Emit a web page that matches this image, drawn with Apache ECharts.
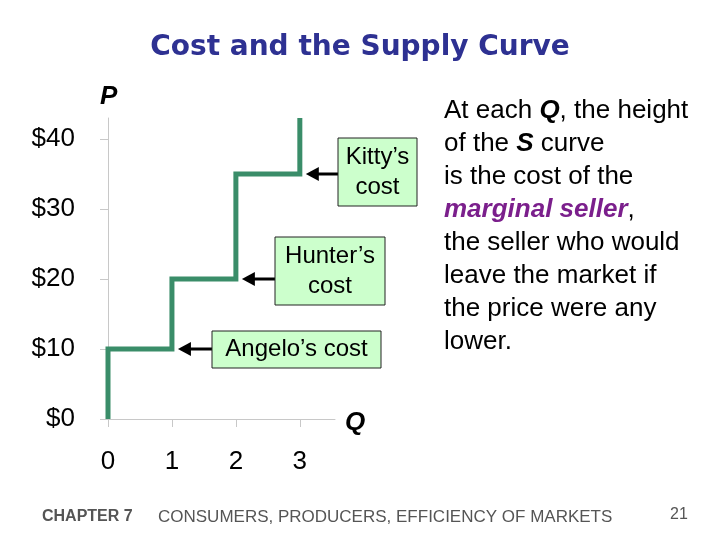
<!DOCTYPE html>
<html>
<head>
<meta charset="utf-8">
<script src="https://cdn.jsdelivr.net/npm/echarts@6/dist/echarts.min.js"></script>
<style>
  html, body { margin: 0; padding: 0; background: #fff; }
  #main { width: 720px; height: 540px; }
</style>
</head>
<body>
<div id="main"></div>
<script>
// sellers, in the order they enter the market
var sellers = ['Angelo', 'Hunter', 'Kitty'];
var sellerLabels = ['Angelo\u2019s cost', 'Hunter\u2019s\ncost', 'Kitty\u2019s\ncost'];
var sellerQ = [1, 2, 3];          // quantity where each seller's step ends
var sellerCost = [10, 20, 35];    // each seller's cost
var priceTop = 43;                // curve keeps rising above the last seller
var xTicks = [0, 1, 2, 3];
var yTicks = [0, 10, 20, 30, 40];

var FONT = '"Liberation Sans", Arial, sans-serif';
var GREEN = '#3a8d69';

// build the step supply curve from the costs
var curve = [[0, 0]];
for (var i = 0; i < sellerCost.length; i++) {
    curve.push([sellerQ[i] - 1, sellerCost[i]]);
    curve.push([sellerQ[i], sellerCost[i]]);
}
curve.push([sellerQ[sellerQ.length - 1], priceTop]);

var myChart = echarts.init(document.getElementById('main'));

var option = {
    animation: false,
    title: {
        text: 'Cost and the Supply Curve',
        left: 'center',
        top: 29,
        textStyle: {
            fontFamily: 'Tahoma, "DejaVu Sans", sans-serif',
            fontWeight: 'bold',
            fontSize: 28,
            color: '#2e3192'
        }
    },
    grid: {
        left: 108,
        top: 118,
        right: 385,
        bottom: 121
    },
    xAxis: {
        type: 'value',
        min: 0,
        max: 3.55,
        interval: 1,
        splitLine: {show: false},
        axisLine: {show: true, lineStyle: {color: '#c8c8c8', width: 1}},
        axisTick: {show: true, length: 8, customValues: xTicks, lineStyle: {color: '#c8c8c8'}},
        axisLabel: {
            margin: 30,
            fontSize: 26,
            fontFamily: FONT,
            color: '#000',
            customValues: xTicks
        }
    },
    yAxis: {
        type: 'value',
        min: 0,
        max: priceTop,
        interval: 10,
        splitLine: {show: false},
        axisLine: {show: true, lineStyle: {color: '#c8c8c8', width: 1}},
        axisTick: {show: true, length: 8, customValues: yTicks, lineStyle: {color: '#c8c8c8'}},
        axisLabel: {
            margin: 33,
            fontSize: 26,
            fontFamily: FONT,
            color: '#000',
            customValues: yTicks,
            formatter: function (v) {
                return '$' + v;
            }
        }
    },
    series: [{
        type: 'line',
        data: curve,
        showSymbol: false,
        symbol: 'none',
        clip: false,
        lineStyle: {color: GREEN, width: 5, join: 'miter', cap: 'butt'}
    }]
};

myChart.setOption(option);

// annotation boxes (pixel layout) pointing at each seller's step
var boxes = [
    {left: 212, top: 331, width: 169, height: 37},
    {left: 275, top: 237, width: 110, height: 68},
    {left: 338, top: 138, width: 79, height: 68}
];

var graphics = [];
sellers.forEach(function (name, i) {
    var pt = myChart.convertToPixel({gridIndex: 0}, [sellerQ[i], sellerCost[i]]);
    var tipX = pt[0] + 6;
    var y = pt[1];
    var b = boxes[i];
    graphics.push({
        type: 'line',
        shape: {x1: tipX + 10, y1: y, x2: b.left, y2: y},
        style: {stroke: '#000', lineWidth: 3}
    });
    graphics.push({
        type: 'polygon',
        shape: {points: [[tipX, y], [tipX + 13, y - 7], [tipX + 13, y + 7]]},
        style: {fill: '#000'}
    });
    graphics.push({
        type: 'rect',
        shape: {x: b.left, y: b.top, width: b.width, height: b.height},
        style: {fill: '#ccffcc', stroke: '#222', lineWidth: 1}
    });
    graphics.push({
        type: 'text',
        x: b.left + b.width / 2,
        y: b.top + b.height / 2,
        style: {
            text: sellerLabels[i],
            font: '24px ' + FONT,
            fill: '#000',
            align: 'center',
            verticalAlign: 'middle',
            lineHeight: 30
        }
    });
});

// axis names
graphics.push({
    type: 'text', x: 100, y: 97,
    style: {text: 'P', font: 'italic bold 26px ' + FONT, fill: '#000', verticalAlign: 'middle'}
});
graphics.push({
    type: 'text', x: 345, y: 423,
    style: {text: 'Q', font: 'italic bold 26px ' + FONT, fill: '#000', verticalAlign: 'middle'}
});

// explanation text
graphics.push({
    type: 'text', x: 444, y: 94,
    style: {
        text: 'At each {b|Q}, the height\nof the {b|S} curve\nis the cost of the\n{m|marginal seller},\nthe seller who would\nleave the market if\nthe price were any\nlower.',
        font: '26px ' + FONT,
        fill: '#000',
        lineHeight: 33,
        rich: {
            b: {fontStyle: 'italic', fontWeight: 'bold', fontSize: 26, fontFamily: FONT, lineHeight: 33},
            m: {fontStyle: 'italic', fontWeight: 'bold', fontSize: 26, fontFamily: FONT, lineHeight: 33, fill: '#7b1f8c'}
        }
    }
});

// footer
graphics.push({
    type: 'text', x: 42, y: 517,
    style: {text: 'CHAPTER 7', font: 'bold 16px "Liberation Sans Narrow", "Arial Narrow", sans-serif', fill: '#555', verticalAlign: 'middle'}
});
graphics.push({
    type: 'text', x: 158, y: 517,
    style: {text: 'CONSUMERS, PRODUCERS, EFFICIENCY OF MARKETS', font: '17px "Liberation Sans Narrow", "Arial Narrow", sans-serif', fill: '#555', verticalAlign: 'middle'}
});
graphics.push({
    type: 'text', x: 670, y: 515,
    style: {text: '21', font: '16px "Liberation Sans Narrow", "Arial Narrow", sans-serif', fill: '#555', verticalAlign: 'middle'}
});

myChart.setOption({graphic: graphics});
</script>
</body>
</html>
